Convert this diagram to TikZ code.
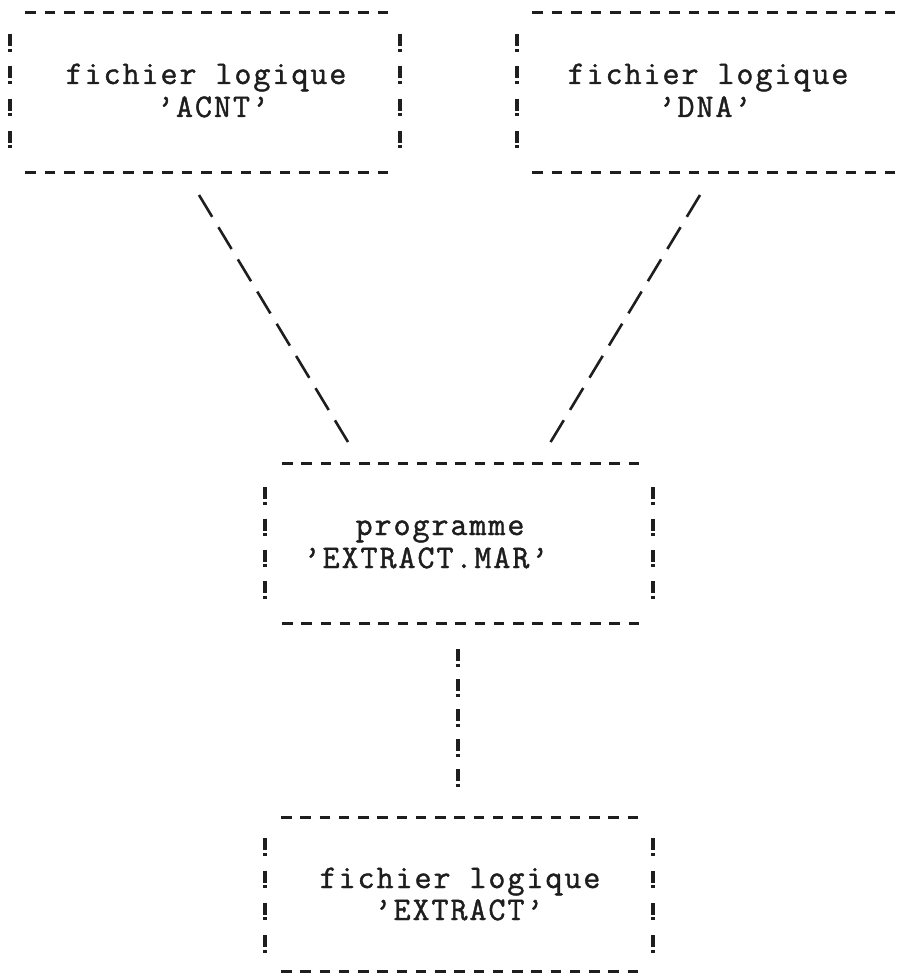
\documentclass[tikz,border=0pt]{standalone}
\usepackage{fontspec}
\setmonofont{Latin Modern Mono}[LetterSpace=6,FakeBold=1.3]
\definecolor{ink}{HTML}{1E1E1E}
\begin{document}
\begin{tikzpicture}[x=1pt,y=-1pt,
  box/.style={draw=none, inner sep=0pt, outer sep=0pt},
  txt/.style={font=\ttfamily\fontsize{33}{40}\selectfont, anchor=base, inner sep=0pt, text=ink},
  dashrow/.style={draw=ink, line width=3pt, dash pattern=on 10.5pt off #1},
  bang/.style={draw=ink, line width=3.2pt, dash pattern=on 12pt off 2.5pt on 3pt off #1},
  diag/.style={draw=ink, line width=2.6pt, dash pattern=on 25.5pt off 12.1pt}]
\fill[white] (0,0) rectangle (903,973);
\path[use as bounding box] (0,0) rectangle (903,973);

% box frames (invisible nodes giving the geometry)
\node[box, minimum width=390pt, minimum height=160pt] (tl) at (205,93) {};
\node[box, minimum width=386pt, minimum height=160pt] (tr) at (710,93) {};
\node[box, minimum width=388pt, minimum height=160pt] (mid) at (459,543) {};
\node[box, minimum width=388pt, minimum height=154pt] (bot) at (459,894) {};

% texts
\node[txt] (tl1) at (206,84) {fichier logique};
\node[txt] (tl2) at (213,117) {’ACNT’};
\node[txt] (tr1) at (708,84) {fichier logique};
\node[txt] (tr2) at (705,117) {’DNA’};
\node[txt] (m1) at (440,535) {programme};
\node[txt] (m2) at (426,568) {’EXTRACT.MAR’};
\node[txt] (b1) at (460,888) {fichier logique};
\node[txt] (b2) at (459,920) {’EXTRACT’};

% top-left box
\draw[dashrow=9.1pt] ([xshift=15pt]tl.north west) -- ([xshift=-11.7pt]tl.north east);
\draw[dashrow=9.1pt] ([xshift=15pt]tl.south west) -- ([xshift=-11.7pt]tl.south east);
\draw[bang=14.75pt] ([yshift=-21.25pt]tl.north west) -- ([yshift=24.25pt]tl.south west);
\draw[bang=14.75pt] ([yshift=-21.25pt]tl.north east) -- ([yshift=24.25pt]tl.south east);

% top-right box (cut by the page edge)
\draw[dashrow=9.1pt] ([xshift=15pt]tr.north west) -- ([xshift=-7.7pt]tr.north east);
\draw[dashrow=9.1pt] ([xshift=15pt]tr.south west) -- ([xshift=-7.7pt]tr.south east);
\draw[bang=14.75pt] ([yshift=-21.25pt]tr.north west) -- ([yshift=24.25pt]tr.south west);

% middle box
\draw[dashrow=8.75pt] ([xshift=17pt]mid.north west) -- ([xshift=-14pt]mid.north east);
\draw[dashrow=8.75pt] ([xshift=17pt]mid.south west) -- ([xshift=-14pt]mid.south east);
\draw[bang=13.83pt] ([yshift=-24.25pt]mid.north west) -- ([yshift=24.25pt]mid.south west);
\draw[bang=13.83pt] ([yshift=-24.25pt]mid.north east) -- ([yshift=24.25pt]mid.south east);

% bottom box
\draw[dashrow=8.75pt] ([xshift=16pt]bot.north west) -- ([xshift=-14pt]bot.north east);
\draw[dashrow=8.75pt] ([xshift=16pt]bot.south west) -- ([xshift=-14pt]bot.south east);
\draw[bang=14.83pt] ([yshift=-21.25pt]bot.north west) -- ([yshift=18.25pt]bot.south west);
\draw[bang=14.83pt] ([yshift=-21.25pt]bot.north east) -- ([yshift=18.25pt]bot.south east);

% connectors
\draw[diag] ([xshift=-6pt,yshift=-22pt]tl.south) -- ([xshift=-111pt,yshift=21pt]mid.north);
\draw[diag] ([xshift=-10pt,yshift=-22pt]tr.south) -- ([xshift=91pt,yshift=20pt]mid.north);
\draw[bang=12.5pt] ([xshift=-1pt,yshift=-26.25pt]mid.south) -- ([xshift=-1pt,yshift=30.25pt]bot.north);
\end{tikzpicture}
\end{document}
